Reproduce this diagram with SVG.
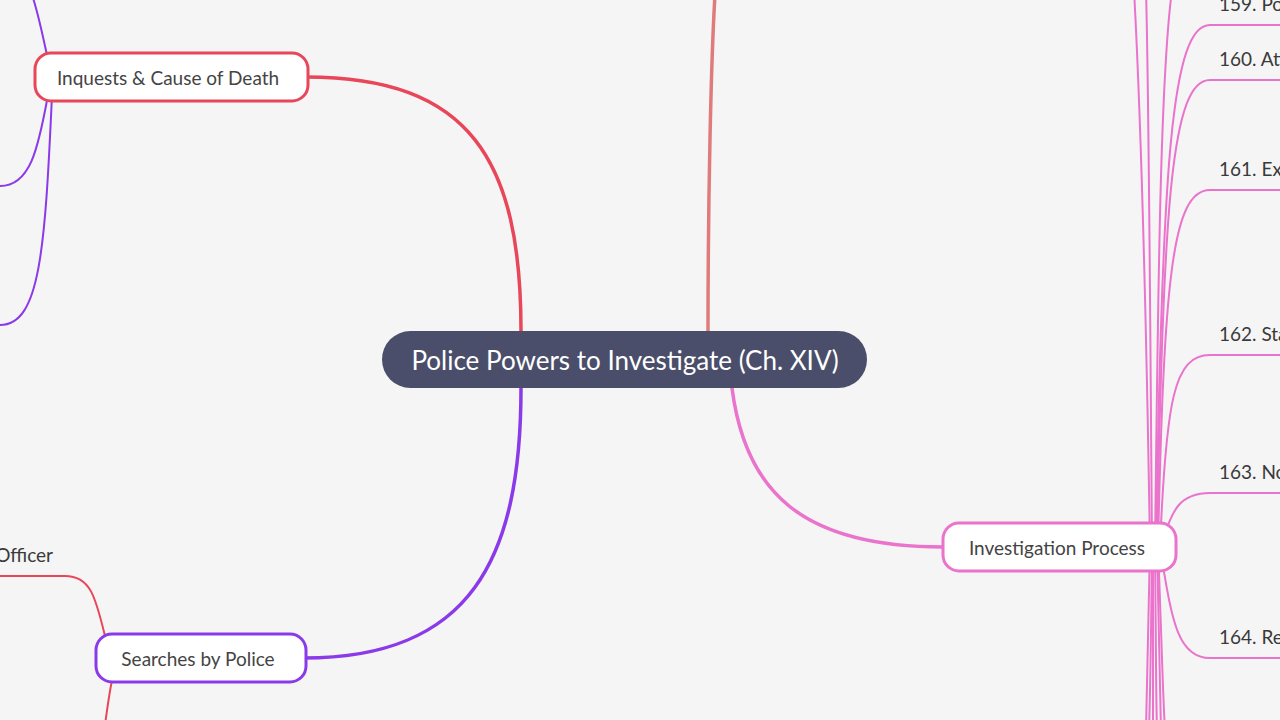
<svg xmlns="http://www.w3.org/2000/svg" width="1280" height="720" viewBox="0 0 1280 720">
<style>
.bg{fill:#f5f5f5}
.lbl{font-family:Lato,"Open Sans","Noto Sans",sans-serif;font-size:19px;fill:#3a3a3a}
.node{fill:#ffffff;stroke-width:3}
.ntext{font-family:Lato,"Open Sans","Noto Sans",sans-serif;font-size:19px;fill:#444444;text-anchor:middle}
.main{fill:none;stroke-width:3.5;stroke-linecap:round}
.sub{fill:none;stroke-width:2}
.pink{stroke:#ea73cc}
.red{stroke:#e8475a}
.purple{stroke:#8a3ae8}
</style>
<rect class="bg" x="0" y="0" width="1280" height="720"/>
<g id="connectors">
  <path class="main red" d="M521,331 C521,160 470,77 306,77"/>
  <path class="main purple" d="M521,388 C521,560 470,658 304,658"/>
  <path class="main" stroke="#e07b7b" d="M708,331 C708,200 711,60 715,-5"/>
  <path class="main pink" d="M732,388 C745,490 800,547 943,547"/>
  <!-- Investigation Process children -->
  <path class="sub pink" d="M1150,547 C1146,300 1140,100 1134,-10"/>
  <path class="sub pink" d="M1152,547 C1150,300 1149,100 1146,-10"/>
  <path class="sub pink" d="M1155,547 C1158,300 1160,80 1172,-10"/>
  <path class="sub pink" d="M1156,547 C1162,160 1172,25 1210,25 L1290,25"/>
  <path class="sub pink" d="M1157,547 C1163,200 1172,80 1210,80 L1290,80"/>
  <path class="sub pink" d="M1158,547 C1164,280 1172,190 1210,190 L1290,190"/>
  <path class="sub pink" d="M1160,547 C1166,400 1174,355 1210,355 L1290,355"/>
  <path class="sub pink" d="M1163,540 C1172,510 1180,493 1210,493 L1290,493"/>
  <path class="sub pink" d="M1162,560 C1172,620 1178,658 1210,658 L1290,658"/>
  <path class="sub pink" d="M1150,547 C1148,650 1147,700 1146,730"/>
  <path class="sub pink" d="M1152,547 C1151,650 1150,700 1149,730"/>
  <path class="sub pink" d="M1153,547 C1153,650 1153,700 1153,730"/>
  <path class="sub pink" d="M1155,547 C1156,650 1156,700 1157,730"/>
  <path class="sub pink" d="M1157,547 C1159,650 1160,700 1161,730"/>
  <path class="sub pink" d="M1158,547 C1162,650 1163,700 1165,730"/>
  <!-- Inquests children -->
  <path class="sub purple" d="M48,60 C42,32 38,12 32,-5"/>
  <path class="sub purple" d="M48,95 C38,150 30,186 0,186 L-10,186"/>
  <path class="sub purple" d="M52,95 C45,250 40,325 0,325 L-10,325"/>
  <!-- Searches children -->
  <path class="sub red" d="M106,640 C96,600 92,576 65,576 L-10,576"/>
  <path class="sub red" d="M112,680 C109,695 107,710 105,725"/>
</g>
<g id="root">
  <rect x="382" y="331" width="485" height="57" rx="28.5" fill="#4b4e6a"/>
  <text x="625" y="370" font-family="Lato,'Open Sans','Noto Sans',sans-serif" font-size="26" fill="#ffffff" text-anchor="middle">Police Powers to Investigate (Ch. XIV)</text>
</g>
<g id="inquests">
  <rect class="node red" x="35" y="53" width="273" height="48" rx="16"/>
  <text class="ntext" x="168" y="85">Inquests &amp; Cause of Death</text>
</g>
<g id="searches">
  <rect class="node purple" x="96" y="634" width="210" height="48" rx="16"/>
  <text class="ntext" x="198" y="666">Searches by Police</text>
</g>
<g id="investigation">
  <rect class="node pink" x="943" y="523" width="233" height="48" rx="16"/>
  <text class="ntext" x="1057" y="555">Investigation Process</text>
</g>
<g id="labels">
  <text class="lbl" x="1219" y="11">159. Po</text>
  <text class="lbl" x="1219" y="66">160. Att</text>
  <text class="lbl" x="1219" y="176">161. Exa</text>
  <text class="lbl" x="1219" y="341">162. Sta</text>
  <text class="lbl" x="1219" y="479">163. No</text>
  <text class="lbl" x="1219" y="644">164. Re</text>
  <text class="lbl" x="53" y="562" text-anchor="end">Officer</text>
</g>
</svg>
